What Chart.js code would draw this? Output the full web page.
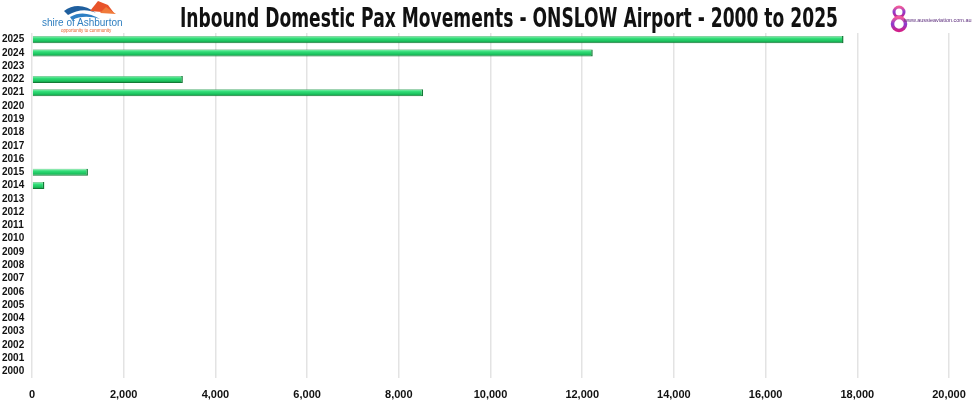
<!DOCTYPE html>
<html><head><meta charset="utf-8">
<script src="https://cdn.jsdelivr.net/npm/chart.js@4"></script>
<style>
html,body{margin:0;padding:0;background:#fff;}
#wrap{position:relative;width:980px;height:403px;overflow:hidden;}
#title{position:absolute;left:0;top:3px;font-family:"DejaVu Sans Condensed","Liberation Sans",sans-serif;font-weight:bold;font-size:26px;line-height:30px;color:#111;white-space:nowrap;transform-origin:0 0;}
.lg{position:absolute;font-family:"Liberation Sans",Arial,sans-serif;white-space:nowrap;}
canvas{position:absolute;left:0;top:0;}
</style></head>
<body><div id="wrap">
<canvas id="c" width="980" height="403"></canvas>
<div id="title">Inbound Domestic Pax Movements - ONSLOW Airport - 2000 to 2025</div>
<svg style="position:absolute;left:60px;top:0" width="60" height="20">
  <path d="M4 11 C14 3 26 5 36 13 C28 9 18 9 8 15 Z" fill="#1f5f9e"/>
  <path d="M10 17 C20 11 30 13 40 19 C30 16 20 16 12 20 Z" fill="#2d7fc4"/>
  <path d="M30 11 L38 1 L48 5 L54 13 Z" fill="#e8532a"/>
  <path d="M40 13 L46 7 L56 14 Z" fill="#f07a3a"/>
</svg>
<div class="lg" style="left:42px;top:17px;font-size:10px;color:#2f7fc0;">shire of Ashburton</div>
<div class="lg" style="left:61px;top:28px;font-size:4.5px;color:#e8612a;">opportunity to community</div>
<svg style="position:absolute;left:890px;top:4px" width="20" height="30">
  <defs><linearGradient id="g8" x1="0" y1="0" x2="0" y2="1"><stop offset="0" stop-color="#f05a9a"/><stop offset="0.5" stop-color="#8a3bd0"/><stop offset="1" stop-color="#d0208a"/></linearGradient></defs>
  <circle cx="9" cy="8" r="5" fill="none" stroke="url(#g8)" stroke-width="3"/>
  <circle cx="9" cy="20" r="6.5" fill="none" stroke="url(#g8)" stroke-width="3.5"/>
</svg>
<div class="lg" style="left:904px;top:17px;font-size:5.5px;color:#5a2a7a;">www.aussieaviation.com.au</div>
</div>
<script>
const categories = ["2025","2024","2023","2022","2021","2020","2019","2018","2017","2016","2015","2014","2013","2012","2011","2010","2009","2008","2007","2006","2005","2004","2003","2002","2001","2000"];
const paxValues = [17700,12230,0,3290,8530,0,0,0,0,0,1220,270,0,0,0,0,0,0,0,0,0,0,0,0,0,0];
const xTicks = [0,2000,4000,6000,8000,10000,12000,14000,16000,18000,20000];

// fit title to reference width
(function(){
  const t = document.getElementById('title');
  const w = t.getBoundingClientRect().width;
  const target = 658, left = 180;
  t.style.transform = 'scaleX(' + (target / w) + ')';
  t.style.left = left + 'px';
})();

function barFill(ctx) {
  const chart = ctx.chart;
  const ys = chart.scales && chart.scales.y;
  if (!ys || ctx.dataIndex === undefined) return '#22d068';
  const yc = ys.getPixelForValue(ctx.dataIndex);
  if (!isFinite(yc)) return '#22d068';
  const g = chart.ctx.createLinearGradient(0, yc - 3.5, 0, yc + 3.5);
  g.addColorStop(0, '#8ff2b4');
  g.addColorStop(0.35, '#2fdc76');
  g.addColorStop(0.7, '#1cc25e');
  g.addColorStop(1, '#0f8a3e');
  return g;
}

new Chart(document.getElementById('c'), {
  type: 'bar',
  data: { labels: categories, datasets: [{
    data: paxValues,
    backgroundColor: barFill,
    borderColor: '#137a36',
    borderWidth: {top:0.5,bottom:1,right:1.5,left:0},
    borderSkipped: false,
    barPercentage: 0.53,
    categoryPercentage: 1
  }]},
  options: {
    indexAxis: 'y',
    responsive: false,
    animation: false,
    layout: { padding: { left: 2, right: 31, top: 33, bottom: 0 } },
    plugins: { legend: { display: false }, title: { display: false }, tooltip: { enabled: false } },
    scales: {
      y: {
        grid: { display: false, drawTicks: false },
        border: { display: false },
        ticks: { color: '#111', font: { family: 'Liberation Sans', weight: 'bold', size: 10 }, padding: 0, crossAlign: 'far', autoSkip: false },
        afterFit: s => { s.width = 30; }
      },
      x: {
        min: 0, max: 20000,
        afterBuildTicks: s => { s.ticks = xTicks.map(v => ({ value: v })); },
        grid: { color: '#e3e3e3', lineWidth: 1.5, drawTicks: false },
        border: { display: false },
        ticks: { color: '#111', font: { family: 'Liberation Sans', weight: 'bold', size: 11 }, padding: 10, maxRotation: 0,
          callback: v => v.toLocaleString('en-US') },
        afterFit: s => { s.height = 25; }
      }
    }
  }
});
</script>
</body></html>
